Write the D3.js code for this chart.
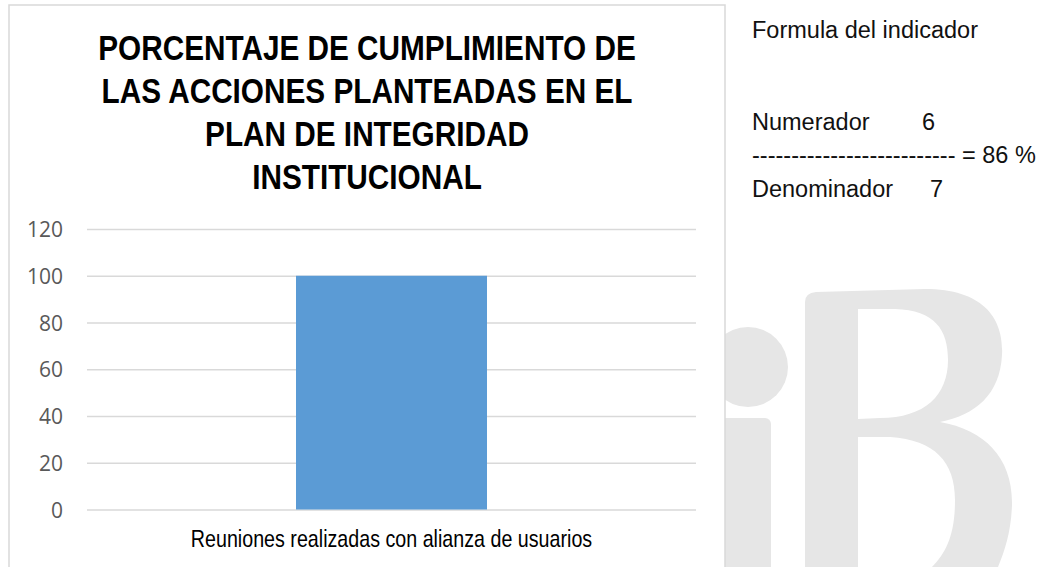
<!DOCTYPE html>
<html>
<head>
<meta charset="utf-8">
<script src="https://cdn.jsdelivr.net/npm/d3@7"></script>
<style>
    body { margin: 0; background: #fff; }
    svg { display: block; }
</style>
</head>
<body>
<svg width="1042" height="567"></svg>
<script>
// chart data
const categories = ["Reuniones realizadas con alianza de usuarios"]
const values = [100]
const y_ticks = [0, 20, 40, 60, 80, 100, 120]
const title_lines = [
    "PORCENTAJE DE CUMPLIMIENTO DE",
    "LAS ACCIONES PLANTEADAS EN EL",
    "PLAN DE INTEGRIDAD",
    "INSTITUCIONAL"
]

// indicator formula
const formula_title = "Formula del indicador"
const numerador = 6
const denominador = 7
const resultado = 86

const svg = d3.select("svg")

// watermark "iB" behind everything
const mark = svg.append("g").attr("fill", "#e6e6e6")
mark.append("circle").attr("cx", 748).attr("cy", 367).attr("r", 40)
mark.append("rect")
    .attr("x", 700).attr("y", 418)
    .attr("width", 71).attr("height", 160)
    .attr("rx", 6)
mark.append("path")
    .attr("fill-rule", "evenodd")
    .attr("d",
        "M805,302 Q805,293 816,292 L925,289 C985,289 1004,320 1002,355 " +
        "C1000,395 975,415 940,422 C985,430 1013,458 1012,505 " +
        "C1011,532 1005,550 998,567 L805,567 Z " +
        "M858,309 L895,309 C935,310 948,330 948,360 C948,395 925,418 880,418 L858,419 Z " +
        "M858,437 L890,437 C935,440 955,462 955,500 C955,535 946,553 932,567 L858,567 Z")

// chart frame
svg.append("rect")
    .attr("x", 9).attr("y", 5)
    .attr("width", 716).attr("height", 600)
    .attr("fill", "#fff")
    .attr("stroke", "#d9d9d9")
    .attr("stroke-width", 1.5)

// title (condensed bold)
svg.append("g")
    .selectAll("text")
    .data(title_lines)
    .enter()
    .append("text")
    .attr("transform", (d, i) => `translate(367,${60 + i * 43}) scale(0.85,1)`)
    .attr("text-anchor", "middle")
    .attr("font-family", "Liberation Sans, Arial, sans-serif")
    .attr("font-weight", "bold")
    .attr("font-size", 35)
    .attr("fill", "#000")
    .text(d => d)

const x = d3.scaleBand()
    .domain(categories)
    .range([87, 696])
    .padding(0.5225)

const y = d3.scaleLinear()
    .domain([0, 120])
    .range([509.5, 229])

// gridlines + y labels
const ya = svg.append("g")
    .attr("transform", "translate(87,0)")
    .call(d3.axisLeft(y).tickValues(y_ticks).tickSize(-609).tickPadding(24))
ya.select(".domain").remove()
ya.selectAll(".tick line")
    .attr("stroke", "#d9d9d9")
    .attr("stroke-width", 1.5)
ya.selectAll(".tick text")
    .attr("font-family", "Open Sans, sans-serif")
    .attr("font-size", 21)
    .attr("fill", "#595959")
    .attr("dy", "0.36em")

// bars
svg.append("g")
    .selectAll("rect")
    .data(values)
    .enter()
    .append("rect")
    .attr("x", (d, i) => x(categories[i]))
    .attr("y", d => y(d))
    .attr("width", x.bandwidth())
    .attr("height", d => y(0) - y(d))
    .attr("fill", "#5b9bd5")

// category axis
const xa = svg.append("g")
    .attr("transform", `translate(0,${y(0)})`)
    .call(d3.axisBottom(x).tickSize(0).tickPadding(0))
xa.select(".domain").remove()
xa.selectAll(".tick text")
    .attr("y", 37.5)
    .attr("dy", 0)
    .attr("transform", "scale(0.82,1)")
    .attr("font-family", "Liberation Sans, Arial, sans-serif")
    .attr("font-size", 24)
    .attr("fill", "#000")

// formula text on the right
const f = svg.append("g")
    .attr("font-family", "Liberation Sans, Arial, sans-serif")
    .attr("font-size", 23.5)
    .attr("fill", "#111")
f.append("text").attr("x", 752).attr("y", 38).text(formula_title)
f.append("text").attr("x", 752).attr("y", 130).text("Numerador")
f.append("text").attr("x", 922).attr("y", 130).text(numerador)
f.append("text").attr("x", 752).attr("y", 163)
    .text("-".repeat(26) + " = " + resultado + " %")
f.append("text").attr("x", 752).attr("y", 197).text("Denominador")
f.append("text").attr("x", 930).attr("y", 197).text(denominador)
</script>
</body>
</html>
